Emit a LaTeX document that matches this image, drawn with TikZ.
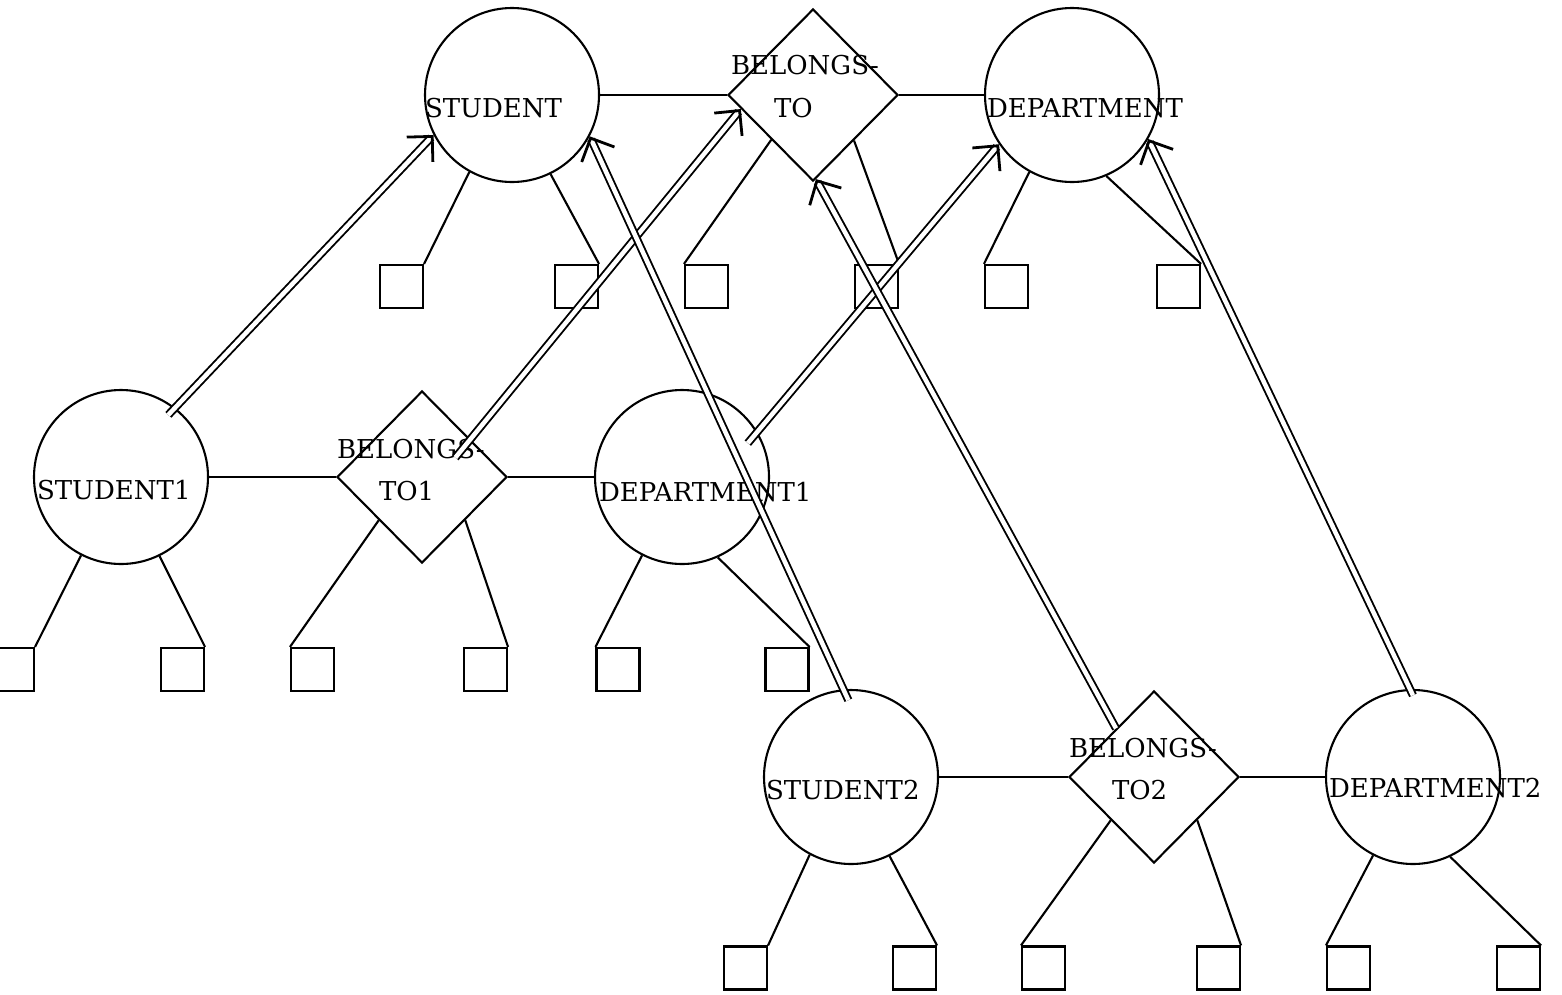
\documentclass[tikz,border=0pt]{standalone}
\usepackage{fontspec}
\setmainfont{DejaVu Serif}
\usetikzlibrary{shapes.geometric,arrows.meta,calc}
\begin{document}
\begin{tikzpicture}[x=1pt,y=-1pt, line width=2.1pt,
  ent/.style={circle, draw, minimum size=174pt, inner sep=0pt},
  rel/.style={diamond, draw, minimum width=170pt, minimum height=172pt, inner sep=0pt},
  attr/.style={rectangle, draw, minimum size=43pt, inner sep=0pt},
  lbl/.style={anchor=base west, inner sep=0pt, font=\fontsize{26}{30}\selectfont},
  inst/.style={double, double distance=4.5pt, line width=1.9pt,
    -{Straight Barb[length=18pt, width=36pt, line width=2.8pt]}},
]
\useasboundingbox (0,0) rectangle (1562,994);
% top row
\node[ent] (S) at (512,95) {};
\node[rel] (BT) at (813,95) {};
\node[ent] (D) at (1072,95) {};
% middle row
\node[ent] (S1) at (121,477) {};
\node[rel] (BT1) at (422,477) {};
\node[ent] (D1) at (682,477) {};
% bottom row
\node[ent] (S2) at (851,777) {};
\node[rel] (BT2) at (1154,777) {};
\node[ent] (D2) at (1413,777) {};
% squares
\node[attr] (q1) at (401.5,286.5) {};
\node[attr] (q2) at (576.5,286.5) {};
\node[attr] (q3) at (706.5,286.5) {};
\node[attr] (q4) at (876.5,286.5) {};
\node[attr] (q5) at (1006.5,286.5) {};
\node[attr] (q6) at (1178.5,286.5) {};
\node[attr] (m1) at (12.5,669.5) {};
\node[attr] (m2) at (182.5,669.5) {};
\node[attr] (m3) at (312.5,669.5) {};
\node[attr] (m4) at (485.5,669.5) {};
\node[attr] (m5) at (618,669.5) {};
\node[attr] (m6) at (787,669.5) {};
\node[attr] (b1) at (745.5,968) {};
\node[attr] (b2) at (914.5,968) {};
\node[attr] (b3) at (1043.5,968) {};
\node[attr] (b4) at (1218.5,968) {};
\node[attr] (b5) at (1348.5,968) {};
\node[attr] (b6) at (1518.5,968) {};
% labels
\node[lbl] (tS) at (424,117) {STUDENT};
\node[lbl] (tBTa) at (730,74) {BELONGS-};
\node[lbl] (tBTb) at (773,117) {TO};
\node[lbl] (tD) at (986,117) {DEPARTMENT};
\node[lbl] (tS1) at (36,499) {STUDENT1};
\node[lbl] (tBT1a) at (336,458) {BELONGS-};
\node[lbl] (tBT1b) at (378,500) {TO1};
\node[lbl] (tD1) at (598,501) {DEPARTMENT1};
\node[lbl] (tS2) at (765,799) {STUDENT2};
\node[lbl] (tBT2a) at (1068,757) {BELONGS-};
\node[lbl] (tBT2b) at (1111,799) {TO2};
\node[lbl] (tD2) at (1328,797) {DEPARTMENT2};
% relationship lines
\draw (S.east) -- (BT.west);
\draw (BT.east) -- (D.west);
\draw (S1.east) -- (BT1.west);
\draw (BT1.east) -- (D1.west);
\draw (S2.east) -- (BT2.west);
\draw (BT2.east) -- (D2.west);
% attribute lines
\draw (S.241) -- (q1.north east);
\draw (S.296) -- (q2.north east);
\draw (BT.227) -- (q3.north west);
\draw (BT.312) -- (q4.north east);
\draw (D.241) -- (q5.north west);
\draw (D.293) -- (q6.north east);
\draw (S1.243) -- (m1.north east);
\draw (S1.296) -- (m2.north east);
\draw (BT1.225) -- (m3.north west);
\draw (BT1.315) -- (m4.north east);
\draw (D1.243) -- (m5.north west);
\draw (D1.294) -- (m6.north east);
\draw (S2.242) -- (b1.north east);
\draw (S2.296) -- (b2.north east);
\draw (BT2.225) -- (b3.north west);
\draw (BT2.315) -- (b4.north east);
\draw (D2.243) -- (b5.north west);
\draw (D2.295) -- (b6.north east);
% instance-of arrows
\draw[inst, shorten <=-10pt] (S1.52) -- (S.207);
\draw[inst, shorten <=-24pt] (BT1.38) -- (BT.191);
\draw[inst, shorten <=-15pt] (D1.31) -- (D.214);
\draw[inst, shorten <=-12pt] (S2.95) -- (S.332);
\draw[inst] (BT2.128) -- (BT.272);
\draw[inst, shorten <=-7pt] (D2.92) -- (D.330);
\end{tikzpicture}
\end{document}
